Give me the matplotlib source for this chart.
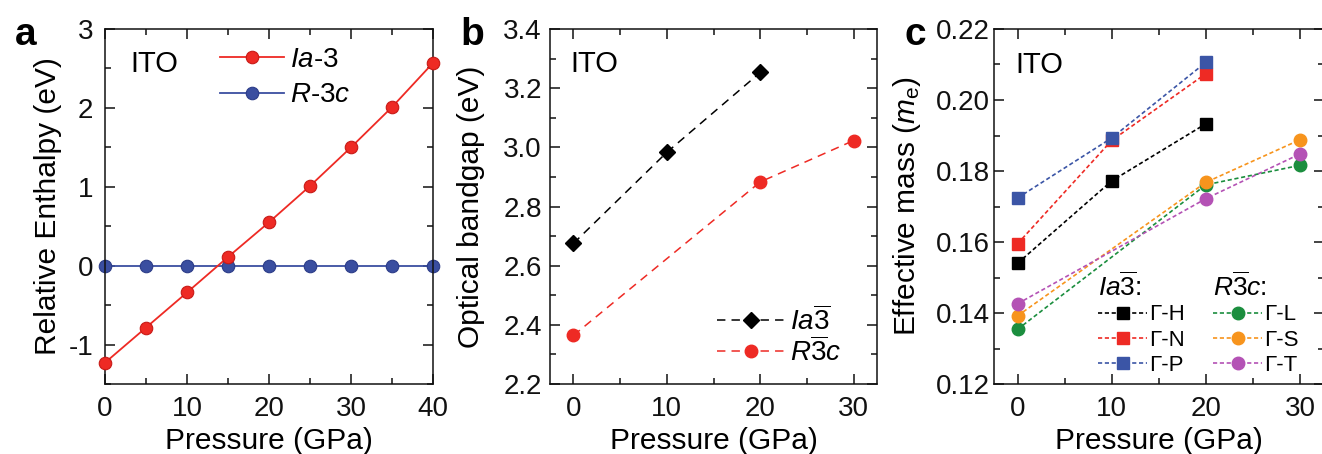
import matplotlib
matplotlib.use('Agg')
import matplotlib.pyplot as plt
from matplotlib.ticker import MultipleLocator, FormatStrFormatter

plt.rcParams['font.family'] = ['Liberation Sans', 'DejaVu Sans']
plt.rcParams['mathtext.fontset'] = 'custom'
plt.rcParams['mathtext.rm'] = 'Liberation Sans'
plt.rcParams['mathtext.it'] = 'Liberation Sans:italic'
plt.rcParams['mathtext.bf'] = 'Liberation Sans:bold'
plt.rcParams['axes.unicode_minus'] = False

# ---------------- data ----------------
pressure_a = [0, 5, 10, 15, 20, 25, 30, 35, 40]
enthalpy_ia3 = [-1.23, -0.785, -0.34, 0.11, 0.55, 1.01, 1.50, 2.01, 2.57]
enthalpy_r3c = [0, 0, 0, 0, 0, 0, 0, 0, 0]

pressure_b_ia3 = [0, 10, 20]
gap_ia3 = [2.675, 2.983, 3.253]
pressure_b_r3c = [0, 20, 30]
gap_r3c = [2.364, 2.883, 3.023]

pressure_c_ia3 = [0, 10, 20]
mass_GH = [0.1540, 0.1772, 0.1933]
mass_GN = [0.1595, 0.1886, 0.2074]
mass_GP = [0.1724, 0.1893, 0.2106]
pressure_c_r3c = [0, 20, 30]
mass_GL = [0.1354, 0.1761, 0.1816]
mass_GS = [0.1392, 0.1768, 0.1888]
mass_GT = [0.1426, 0.1722, 0.1848]

labels_ia3_c = ['Γ-H', 'Γ-N', 'Γ-P']
labels_r3c_c = ['Γ-L', 'Γ-S', 'Γ-T']

RED = '#ee2a24'
BLUE_A = '#3a4ea0'
BLUE = '#3b55a6'
GREEN = '#1b8e3e'
ORANGE = '#f7941d'
MAGENTA = '#b452b5'

W, H = 1322, 454
fig = plt.figure(figsize=(W / 100, H / 100), dpi=100)

def px_axes(left, right, top=29, bottom=384):
    return fig.add_axes([left / W, (H - bottom) / H, (right - left) / W, (bottom - top) / H])

axa = px_axes(105, 433)
axb = px_axes(550, 877)
axc = px_axes(994, 1323.5)

TICK_FS = 20
LABEL_FS = 21.5

def style(ax, ypad):
    ax.tick_params(which='both', direction='in', top=True, right=True, width=1.1,
                   labelsize=TICK_FS, colors='#111111')
    ax.tick_params(which='major', length=7)
    ax.tick_params(which='minor', length=4)
    ax.tick_params(axis='x', pad=9)
    ax.tick_params(axis='y', pad=ypad)
    for s in ax.spines.values():
        s.set_linewidth(1.1)
        s.set_color('#111111')

# ---------------- panel a ----------------
axa.plot(pressure_a, enthalpy_ia3, '-o', color=RED, lw=1.3, ms=9,
         mec='#c81a16', mew=0.8, label=r'$\mathit{Ia}$-3', clip_on=False, zorder=3)
axa.plot(pressure_a, enthalpy_r3c, '-o', color=BLUE_A, lw=1.3, ms=9,
         mec='#2c3c88', mew=0.8, label=r'$\mathit{R}$-3$\mathit{c}$', clip_on=False, zorder=2)
axa.set_xlim(0, 40)
axa.set_ylim(-1.5, 3)
axa.xaxis.set_major_locator(MultipleLocator(10))
axa.xaxis.set_minor_locator(MultipleLocator(5))
axa.yaxis.set_major_locator(MultipleLocator(1))
axa.yaxis.set_minor_locator(MultipleLocator(0.5))
style(axa, 8.5)
axa.set_xlabel('Pressure (GPa)', fontsize=LABEL_FS)
axa.set_ylabel('Relative Enthalpy (eV)', fontsize=LABEL_FS)
axa.text(0.076, 0.879, 'ITO', transform=axa.transAxes, fontsize=21)
axa.legend(loc='upper left', bbox_to_anchor=(0.351, 0.95), frameon=False, fontsize=20,
           handlelength=2.3, handletextpad=0.2, borderpad=0, borderaxespad=0,
           labelspacing=0.35)

# ---------------- panel b ----------------
axb.plot(pressure_b_ia3, gap_ia3, linestyle=(0, (5.5, 4)), marker='D', color='black',
         lw=1.1, ms=8.5, label=r'$Ia\overline{3}$')
axb.plot(pressure_b_r3c, gap_r3c, linestyle=(0, (5.5, 4)), marker='o', color=RED,
         lw=1.1, ms=9, label=r'$R\overline{3}c$')
axb.set_xlim(-2.5, 32.5)
axb.set_ylim(2.2, 3.4)
axb.xaxis.set_major_locator(MultipleLocator(10))
axb.xaxis.set_minor_locator(MultipleLocator(5))
axb.yaxis.set_major_locator(MultipleLocator(0.2))
axb.yaxis.set_minor_locator(MultipleLocator(0.1))
axb.yaxis.set_major_formatter(FormatStrFormatter('%.1f'))
style(axb, 5.8)
axb.set_xlabel('Pressure (GPa)', fontsize=LABEL_FS)
axb.set_ylabel('Optical bandgap (eV)', fontsize=LABEL_FS)
axb.text(0.061, 0.879, 'ITO', transform=axb.transAxes, fontsize=21)
axb.legend(loc='lower left', bbox_to_anchor=(0.512, 0.048), frameon=False, fontsize=20,
           handlelength=2.45, handletextpad=0.15, borderpad=0, borderaxespad=0,
           labelspacing=0.05)

# ---------------- panel c ----------------
dash_c = (0, (2.5, 1.6))
h1 = []
for y, c, lab in zip([mass_GH, mass_GN, mass_GP], ['black', RED, BLUE], labels_ia3_c):
    ln, = axc.plot(pressure_c_ia3, y, linestyle=dash_c, marker='s', color=c, lw=1.2,
                   ms=8.5, label=lab)
    h1.append(ln)
h2 = []
for y, c, lab in zip([mass_GL, mass_GS, mass_GT], [GREEN, ORANGE, MAGENTA], labels_r3c_c):
    ln, = axc.plot(pressure_c_r3c, y, linestyle=dash_c, marker='o', color=c, lw=1.2,
                   ms=9, label=lab)
    h2.append(ln)
axc.set_xlim(-2.5, 32.5)
axc.set_ylim(0.12, 0.22)
axc.xaxis.set_major_locator(MultipleLocator(10))
axc.xaxis.set_minor_locator(MultipleLocator(5))
axc.yaxis.set_major_locator(MultipleLocator(0.02))
axc.yaxis.set_minor_locator(MultipleLocator(0.01))
axc.yaxis.set_major_formatter(FormatStrFormatter('%.2f'))
style(axc, 3)
axc.set_xlabel('Pressure (GPa)', fontsize=LABEL_FS)
axc.set_ylabel(r'Effective mass ($m_{\mathrm{e}}$)', fontsize=LABEL_FS)
axc.text(0.064, 0.876, 'ITO', transform=axc.transAxes, fontsize=21)
leg_kw = dict(loc='lower left', frameon=False, fontsize=16, handlelength=2.2,
              handletextpad=0.1, borderpad=0, borderaxespad=0, labelspacing=0.2)
leg1 = axc.legend(handles=h1, bbox_to_anchor=(0.316, 0.022), **leg_kw)
axc.add_artist(leg1)
axc.legend(handles=h2, bbox_to_anchor=(0.665, 0.022), **leg_kw)
axc.text(0.316, 0.247, r'$Ia\overline{3}$:', transform=axc.transAxes, fontsize=19)
axc.text(0.665, 0.247, r'$R\overline{3}c$:', transform=axc.transAxes, fontsize=19)

# axis label positions
axa.yaxis.set_label_coords(-0.131, 0.5)
axb.yaxis.set_label_coords(-0.199, 0.5)
axc.yaxis.set_label_coords(-0.215, 0.5)
for ax in (axa, axb, axc):
    ax.xaxis.set_label_coords(0.5, -0.12)

# panel letters
fig.text(15 / W, (H - 45) / H, 'a', fontsize=28, fontweight='bold')
fig.text(460 / W, (H - 45) / H, 'b', fontsize=28, fontweight='bold')
fig.text(905 / W, (H - 45) / H, 'c', fontsize=28, fontweight='bold')

fig.savefig('out.png', dpi=100)
